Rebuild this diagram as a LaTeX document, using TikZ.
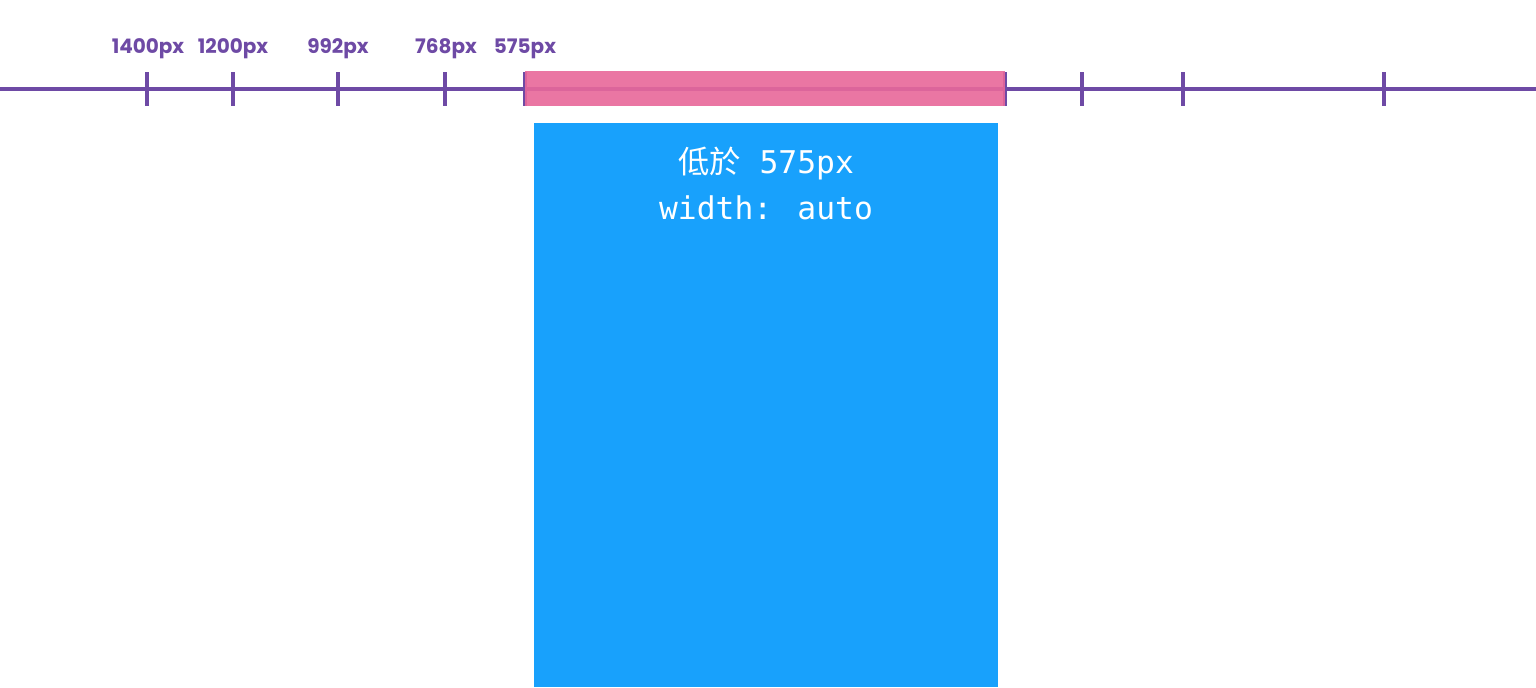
\documentclass[tikz,border=0pt]{standalone}
\usepackage{fontspec}
\setmainfont{Poppins}
\newfontfamily\cjk{Noto Sans CJK TC}
\newfontfamily\monof{DejaVu Sans Mono}
\definecolor{axispurple}{HTML}{6E4AA5}
\definecolor{rangepink}{HTML}{E8689A}
\definecolor{boxblue}{HTML}{18A1FC}
\begin{document}
\begin{tikzpicture}[x=0.75pt,y=-0.75pt,
  axisline/.style={draw=axispurple,line width=2.6pt},
  tickline/.style={draw=axispurple,line width=2.6pt},
  bplabel/.style={text=axispurple,font=\bfseries\fontsize{15}{17}\selectfont,inner sep=0pt,anchor=base},
  rangebar/.style={fill=rangepink,fill opacity=0.9,draw=none},
  panel/.style={fill=boxblue,draw=none},
  paneltext/.style={text=white,align=center,inner sep=0pt,font=\monof\fontsize{23.5}{34.5}\selectfont}]
\useasboundingbox (0,0) rectangle (1536,687);
\fill[white] (0,0) rectangle (1536,687);
% axis
\coordinate (axL) at (0,89);
\coordinate (axR) at (1536,89);
\draw[axisline] (axL) -- (axR);
% ticks
\foreach \x/\n in {147/t1,233/t2,338/t3,445/t4,525/t5,1005/t6,1082/t7,1183/t8,1384/t9}{
  \coordinate (\n a) at (\x,72);
  \coordinate (\n b) at (\x,106);
  \draw[tickline] (\n a) -- (\n b);
}
% pink range
\path[rangebar] (525,71) rectangle (1005,106);
% labels
\node[bplabel] (l1) at (148,53) {1400px};
\node[bplabel] (l2) at (233,53) {1200px};
\node[bplabel] (l3) at (338,53) {992px};
\node[bplabel] (l4) at (446,53) {768px};
\node[bplabel] (l5) at (525,53) {575px};
% blue panel
\path[panel] (534,123) rectangle (998,687);
\node[paneltext,anchor=north] (ptext) at (766,147) {{\cjk 低於} 575px\\width: auto};
\end{tikzpicture}
\end{document}
